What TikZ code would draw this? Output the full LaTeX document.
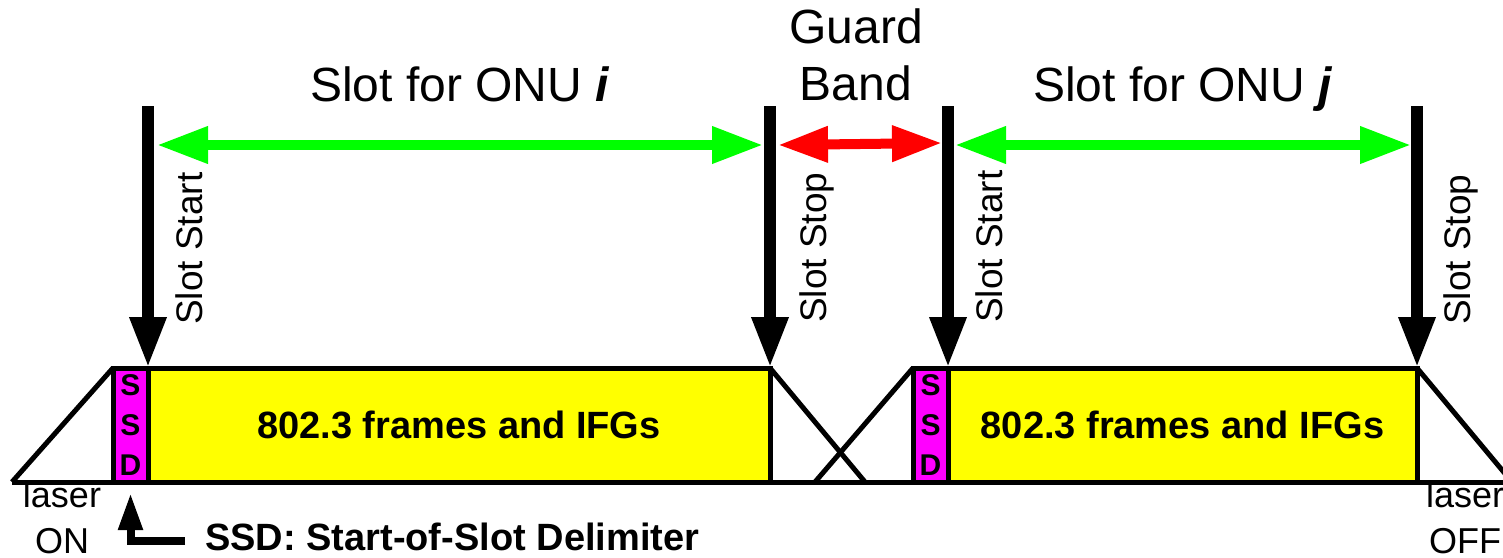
\documentclass[tikz,border=0pt]{standalone}
\usepackage{fontspec}
\setmainfont{Liberation Sans}
\usetikzlibrary{arrows.meta}
\definecolor{mag}{RGB}{255,0,255}
\definecolor{yel}{RGB}{255,255,0}
\definecolor{grn}{RGB}{0,255,0}
\definecolor{rd}{RGB}{255,0,0}
\begin{document}
\begin{tikzpicture}[x=1pt,y=-1pt,
  outline/.style={line width=5pt, draw=black},
  ssdbox/.style={outline, fill=mag, minimum width=35pt, minimum height=114pt, inner sep=0pt, outer sep=0pt, align=center, font=\fontsize{30}{40}\selectfont\bfseries},
  framebox/.style={outline, fill=yel, minimum height=114pt, inner sep=0pt, outer sep=0pt, font=\fontsize{38}{46}\selectfont\bfseries},
  edgeline/.style={line width=5pt},
  slotarrow/.style={line width=12pt, -{Triangle[length=51pt,width=34pt]}},
  slotspan/.style={draw=grn, line width=10pt, {Triangle[length=51pt,width=35pt]}-{Triangle[length=51pt,width=35pt]}},
  guardspan/.style={draw=rd, line width=10pt, {Triangle[length=50pt,width=34pt]}-{Triangle[length=50pt,width=34pt]}},
  pointer/.style={line width=8pt, line join=miter, -{Triangle[length=37pt,width=23pt]}},
  rotlabel/.style={rotate=90, anchor=base west, inner sep=0pt, font=\fontsize{37}{44}\selectfont},
  titlelabel/.style={inner sep=0pt, font=\fontsize{48}{57}\selectfont},
  laserlabel/.style={inner sep=0pt, align=center, anchor=base, font=\fontsize{36}{46}\selectfont},
]
\useasboundingbox (0,0) rectangle (1503,557);

% ground line and laser ramps
\coordinate (onL) at (12,482);
\coordinate (endR) at (1512,482);
\coordinate (offI) at (865,482);
\coordinate (onJ) at (815,482);
\draw[edgeline] (onL) -- (endR);

% boxes
\node[ssdbox] (ssd1) at (130.5,425) {S\\S\\D};
\node[framebox, minimum width=622pt] (fr1) at (459,425) {802.3 frames and IFGs};
\node[ssdbox] (ssd2) at (930.5,425) {S\\S\\D};
\node[framebox, minimum width=469pt] (fr2) at (1182.5,425) {802.3 frames and IFGs};

\draw[edgeline] (onL) -- (ssd1.north west);
\draw[edgeline] (fr1.north east) -- (offI);
\draw[edgeline] (onJ) -- (ssd2.north west);
\draw[edgeline] (fr2.north east) -- (endR);

% spans
\coordinate (g1a) at (157,145);
\coordinate (g1b) at (763,145);
\coordinate (g2a) at (955,145);
\coordinate (g2b) at (1411,145);
\coordinate (r1) at (778,145);
\coordinate (r2) at (942,143);
\draw[slotspan] (g1a) -- (g1b);
\draw[slotspan] (g2a) -- (g2b);
\draw[guardspan] (r1) -- (r2);

% slot markers
\coordinate (t1) at (148,106);
\coordinate (t2) at (770,106);
\coordinate (t3) at (948,106);
\coordinate (t4) at (1417,106);
\draw[slotarrow] (t1) -- (ssd1.north east);
\draw[slotarrow] (t2) -- (fr1.north east);
\draw[slotarrow] (t3) -- (ssd2.north east);
\draw[slotarrow] (t4) -- (fr2.north east);

% rotated labels
\node[rotlabel] (lss1) at (202,325) {Slot Start};
\node[rotlabel] (lsp1) at (826,323) {Slot Stop};
\node[rotlabel] (lss2) at (1002,323) {Slot Start};
\node[rotlabel] (lsp2) at (1470,325) {Slot Stop};

% titles
\node[titlelabel, anchor=base west] (ti) at (310,101) {Slot for ONU \textbf{\textit{i}}};
\node[titlelabel, anchor=base west] (tj) at (1033,101) {Slot for ONU \textbf{\textit{j}}};
\node[titlelabel, align=center, anchor=base] (gb) at (856,100) {Guard\\Band};

% laser labels
\node[laserlabel] (lon) at (62,553) {laser\\ON};
\node[laserlabel] (loff) at (1465,553) {laser\\OFF};

% SSD note
\node[anchor=base west, inner sep=0pt, font=\fontsize{38}{46}\selectfont\bfseries] (sdn) at (205,550) {SSD: Start-of-Slot Delimiter};
\coordinate (sa) at (185,541);
\draw[pointer, shorten >=11pt] (sa) -| (ssd1.south);
\end{tikzpicture}
\end{document}
